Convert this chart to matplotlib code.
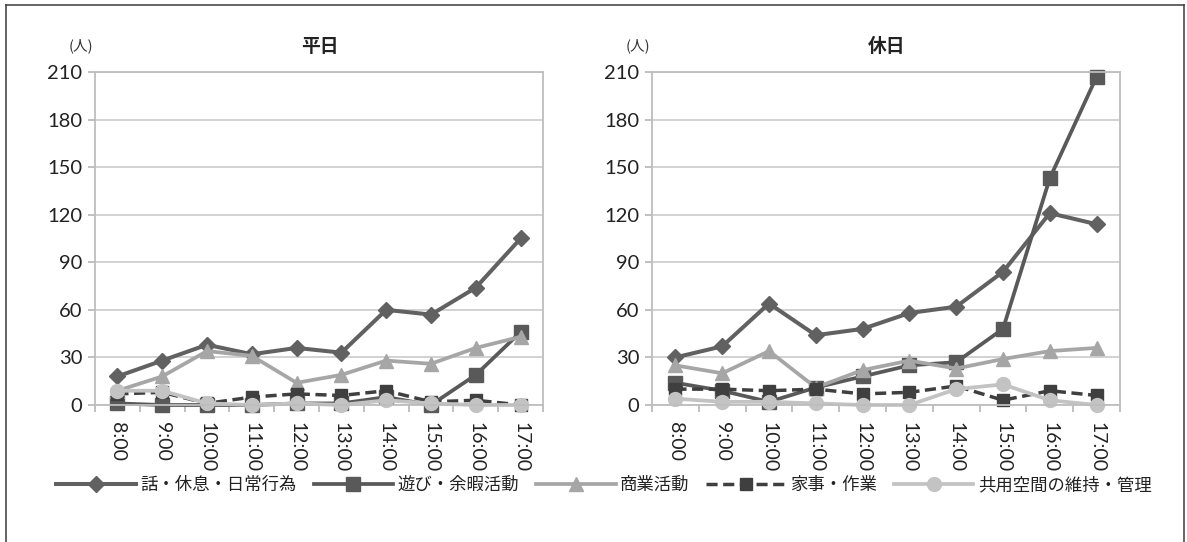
import matplotlib
matplotlib.use("Agg")
import matplotlib.pyplot as plt
from matplotlib.lines import Line2D
from matplotlib.ticker import FixedLocator, NullFormatter

plt.rcParams['font.family'] = ['Lato', 'Noto Sans CJK JP', 'DejaVu Sans']

hours = ["8:00", "9:00", "10:00", "11:00", "12:00", "13:00", "14:00", "15:00", "16:00", "17:00"]
series_names = ["話・休息・日常行為", "遊び・余暇活動", "商業活動", "家事・作業", "共用空間の維持・管理"]

# weekday counts (people)
wd_talk = [18, 28, 38, 32, 36, 33, 60, 57, 74, 105]
wd_play = [1, 0, 0, 0, 1, 1, 5, 0, 19, 46]
wd_comm = [9, 18, 34, 31, 14, 19, 28, 26, 36, 43]
wd_chore = [7, 8, 1, 5, 7, 6, 9, 2, 3, 0]
wd_common = [9, 9, 1, 0, 1, 0, 3, 1, 0, 0]

# holiday counts (people)
hd_talk = [30, 37, 64, 44, 48, 58, 62, 84, 121, 114]
hd_play = [14, 9, 2, 11, 18, 25, 27, 48, 143, 207]
hd_comm = [25, 20, 34, 11, 22, 28, 23, 29, 34, 36]
hd_chore = [10, 10, 9, 10, 7, 8, 12, 3, 9, 6]
hd_common = [4, 2, 2, 1, 0, 0, 10, 13, 3, 0]

y_ticks = [0, 30, 60, 90, 120, 150, 180, 210]

styles = [
    dict(color="#616161", lw=2.9, ls="-", marker="D", ms=8.5),
    dict(color="#595959", lw=2.7, ls="-", marker="s", ms=9.5),
    dict(color="#a6a6a6", lw=2.7, ls="-", marker="^", ms=10),
    dict(color="#3f3f3f", lw=2.5, ls=(0, (3.2, 1.6)), marker="s", ms=8),
    dict(color="#c3c3c3", lw=2.7, ls="-", marker="o", ms=10),
]

W, H = 1187, 542
fig = plt.figure(figsize=(W / 100, H / 100), dpi=100)


def fx(px):
    return px / W


def fy(py):
    return 1 - py / H


def draw_panel(left_px, right_px, data, title, title_x):
    top_px, bottom_px = 72, 405
    ax = fig.add_axes([fx(left_px), fy(bottom_px), fx(right_px - left_px), (bottom_px - top_px) / H])
    x = list(range(len(hours)))
    handles = []
    for vals, st in zip(data, styles):
        h, = ax.plot(x, vals, color=st["color"], lw=st["lw"], ls=st["ls"],
                     marker=st["marker"], ms=st["ms"], mfc=st["color"], mec=st["color"],
                     solid_joinstyle="round", clip_on=False)
        handles.append(h)
    ax.set_xlim(-0.5, len(hours) - 0.5)
    ax.set_ylim(0, 210)
    ax.set_yticks(y_ticks)
    ax.set_yticklabels([str(v) for v in y_ticks], fontsize=14.5, color="#222222")
    ax.yaxis.grid(True, color="#cfcfcf", lw=1.3)
    ax.set_axisbelow(True)
    ax.set_xticks(x)
    ax.set_xticklabels(hours, rotation=-90, fontsize=14, color="#222222", va="top", ha="center")
    ax.xaxis.set_minor_locator(FixedLocator([i - 0.5 for i in range(len(hours) + 1)]))
    ax.xaxis.set_minor_formatter(NullFormatter())
    ax.tick_params(axis="x", which="major", length=0, pad=12)
    ax.tick_params(axis="x", which="minor", length=5, width=1.2, color="#b5b5b5", direction="out")
    ax.tick_params(axis="y", length=5, width=1.2, color="#b5b5b5", pad=4)
    for sp in ax.spines.values():
        sp.set_color("#bdbdbd")
        sp.set_linewidth(1.3)
    fig.text(fx(title_x), fy(46), title, ha="center", va="center", fontsize=13.5,
             fontweight="bold", family=["Noto Sans CJK JP"], color="#222222")
    fig.text(fx(left_px - 14), fy(46), "(人)", ha="center", va="center", fontsize=10.5,
             family=["Noto Sans CJK JP"], color="#333333")
    return handles


handles = draw_panel(95, 543, [wd_talk, wd_play, wd_comm, wd_chore, wd_common], "平日", 320)
draw_panel(652, 1120, [hd_talk, hd_play, hd_comm, hd_chore, hd_common], "休日", 887)

leg = fig.legend(handles, series_names, loc="center", bbox_to_anchor=(fx(604), fy(485)),
                 ncol=5, frameon=False, handlelength=4.6, handletextpad=0.25,
                 columnspacing=0.95, prop={"family": ["Noto Sans CJK JP"], "size": 12.5})
for t in leg.get_texts():
    t.set_color("#222222")

# outer frame (left, top, right edges)
frame_kw = dict(color="#3a3a3a", lw=1.1, transform=fig.transFigure)
fig.add_artist(Line2D([fx(6), fx(6)], [0, fy(5)], **frame_kw))
fig.add_artist(Line2D([fx(6), fx(1184)], [fy(5), fy(5)], **frame_kw))
fig.add_artist(Line2D([fx(1184), fx(1184)], [0, fy(5)], **frame_kw))

fig.savefig("out.png", dpi=100, facecolor="white")
